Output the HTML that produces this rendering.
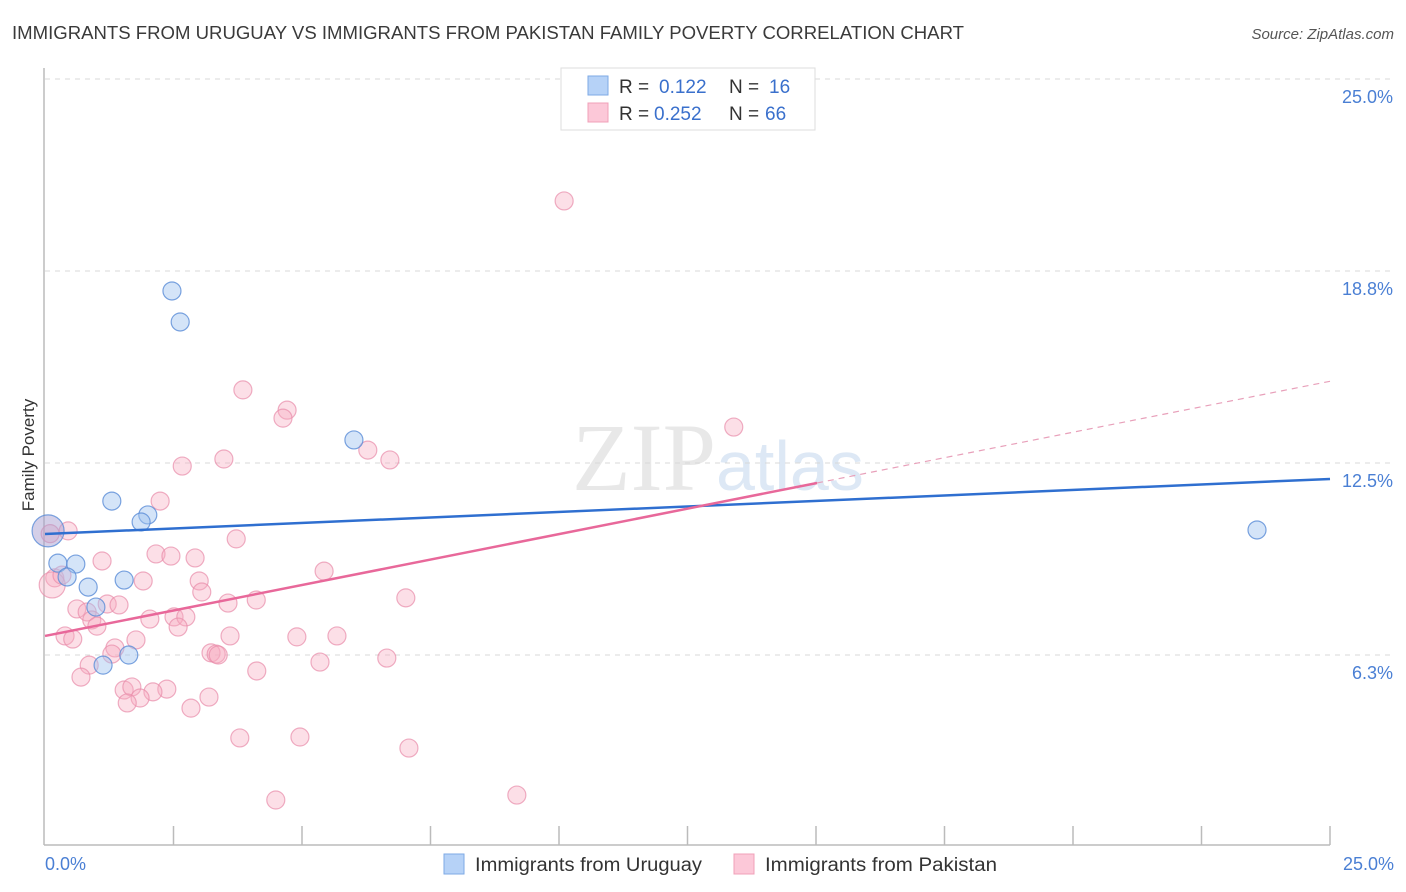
<!DOCTYPE html>
<html><head><meta charset="utf-8"><style>
body{margin:0;background:#fff;font-family:"Liberation Sans",sans-serif;}
svg{display:block}
</style></head><body>
<svg width="1406" height="892">
<text x="12" y="39" font-size="18" fill="#3a3a3a" textLength="952" lengthAdjust="spacingAndGlyphs">IMMIGRANTS FROM URUGUAY VS IMMIGRANTS FROM PAKISTAN FAMILY POVERTY CORRELATION CHART</text>
<text x="1394" y="39" font-size="15" fill="#555" text-anchor="end" font-style="italic">Source: ZipAtlas.com</text>
<text x="716" y="490" font-size="96" fill="#e8e8e8" text-anchor="end" font-family="Liberation Serif,serif">ZIP</text>
<text x="716" y="490" font-size="70" fill="#dde8f5">atlas</text>
<g id="grid"></g>
<g id="axes"></g>
<g id="pts"></g>
<g id="lines"></g>
<text x="34" y="455" font-size="17" fill="#333" text-anchor="middle" transform="rotate(-90 34 455)">Family Poverty</text>
<text x="45" y="870" font-size="18" fill="#4a7fd4">0.0%</text>
<text x="1394" y="870" font-size="18" fill="#4a7fd4" text-anchor="end">25.0%</text>
<g>
<rect x="561" y="68" width="254" height="62" fill="#fff" stroke="#ddd"/>
<rect x="588" y="76" width="20" height="19" fill="#b6d2f7" stroke="#7eaae6"/>
<rect x="588" y="103" width="20" height="19" fill="#fcc8d8" stroke="#f0a0b8"/>
<text x="619" y="93" font-size="19" fill="#333">R =</text>
<text x="659" y="93" font-size="19" fill="#3a70cc">0.122</text>
<text x="729" y="93" font-size="19" fill="#333">N =</text>
<text x="769" y="93" font-size="19" fill="#3a70cc">16</text>
<text x="619" y="120" font-size="19" fill="#333">R =</text>
<text x="654" y="120" font-size="19" fill="#3a70cc">0.252</text>
<text x="729" y="120" font-size="19" fill="#333">N =</text>
<text x="765" y="120" font-size="19" fill="#3a70cc">66</text>
</g>
<g>
<rect x="444" y="854" width="20" height="20" fill="#b6d2f7" stroke="#7eaae6"/>
<text x="475" y="871" font-size="19" fill="#333" textLength="227" lengthAdjust="spacingAndGlyphs">Immigrants from Uruguay</text>
<rect x="734" y="854" width="20" height="20" fill="#fcc8d8" stroke="#f0a0b8"/>
<text x="765" y="871" font-size="19" fill="#333" textLength="232" lengthAdjust="spacingAndGlyphs">Immigrants from Pakistan</text>
</g>
</svg>
<script>
const yTicks=[6.25,12.5,18.75,25];
const yTickLabels=["6.3%","12.5%","18.8%","25.0%"];
const blueX=[0.06,2.47,2.63,6.01,1.30,2.00,1.87,0.25,0.60,0.43,0.84,1.54,0.99,1.63,1.13,23.58];
const blueY=[10.29,18.10,17.09,13.25,11.26,10.81,10.58,9.24,9.21,8.79,8.46,8.69,7.81,6.25,5.92,10.32];
const pinkX=[10.10,3.85,4.71,4.63,13.40,6.28,6.71,3.48,2.67,2.24,0.45,3.72,2.16,2.45,2.92,1.11,5.43,0.19,0.14,0.33,1.91,3.00,3.05,7.02,4.11,3.56,1.21,1.44,0.62,0.82,2.04,2.51,2.74,0.91,1.01,2.59,3.60,0.39,0.54,1.77,4.90,5.68,1.36,1.30,3.23,3.33,3.37,6.65,5.35,0.86,4.12,0.70,1.54,1.69,2.37,2.10,1.85,1.60,3.19,2.84,3.79,4.96,7.08,4.49,9.18,0.10];
const pinkY=[21.03,14.88,14.22,13.96,13.67,12.92,12.60,12.63,12.40,11.26,10.29,10.03,9.54,9.47,9.41,9.31,8.98,8.76,8.53,8.85,8.66,8.66,8.30,8.11,8.04,7.94,7.91,7.88,7.75,7.65,7.42,7.49,7.49,7.39,7.19,7.16,6.87,6.87,6.77,6.74,6.84,6.87,6.48,6.28,6.32,6.28,6.25,6.15,6.02,5.92,5.73,5.53,5.11,5.21,5.14,5.05,4.85,4.69,4.88,4.52,3.55,3.58,3.22,1.53,1.69,10.2];
const blueTrend=[[0,10.19],[25,11.98]];
const pinkTrend=[[0,6.87],[15.02,11.85],[25,15.16]];
const X=v=>45+v/25*1285, Y=v=>847-v/6.25*192;
const NS="http://www.w3.org/2000/svg";
function mk(tag,attrs,parent){const e=document.createElementNS(NS,tag);for(const k in attrs)e.setAttribute(k,attrs[k]);document.getElementById(parent).appendChild(e);return e;}
yTicks.forEach((t,i)=>{
 const l=mk('line',{x1:45,x2:1394,y1:Y(t),y2:Y(t),stroke:'#d8d8d8','stroke-dasharray':'5,5'},'grid');
 
 
 const tx=mk('text',{x:1393,y:Y(t)+24,'font-size':18,fill:'#4a7fd4','text-anchor':'end'},'grid');
 tx.textContent=yTickLabels[i];
 
 
});
let a=mk('line',{x1:44,x2:44,y1:68,y2:845,stroke:'#bbb','stroke-width':1.5},'axes');


a=mk('line',{x1:44,x2:1330,y1:845,y2:845,stroke:'#bbb','stroke-width':1.5},'axes');


for(let i=1;i<=10;i++){const t=mk('line',{x1:X(i*2.5),x2:X(i*2.5),y1:826,y2:845,stroke:'#bbb','stroke-width':1.5},'axes');
 
 }
pinkX.forEach((v,i)=>{const big=(i===18);const c=mk('circle',{cx:X(v),cy:Y(pinkY[i]),r:big?13:9,fill:'rgba(246,170,192,0.38)',stroke:'rgba(232,140,170,0.7)','stroke-width':1.2},'pts');
 
 });
blueX.forEach((v,i)=>{const big=(i===0);const c=mk('circle',{cx:X(v),cy:Y(blueY[i]),r:big?16:9,fill:big?'rgba(170,160,210,0.5)':'rgba(160,196,240,0.45)',stroke:'rgba(90,140,215,0.8)','stroke-width':1.2},'pts');
 
 });
let l=mk('line',{x1:X(blueTrend[0][0]),y1:Y(blueTrend[0][1]),x2:X(blueTrend[1][0]),y2:Y(blueTrend[1][1]),stroke:'#2f6fd0','stroke-width':2.5},'lines');


l=mk('line',{x1:X(pinkTrend[0][0]),y1:Y(pinkTrend[0][1]),x2:X(pinkTrend[1][0]),y2:Y(pinkTrend[1][1]),stroke:'#e8689a','stroke-width':2.5},'lines');


l=mk('line',{x1:X(pinkTrend[1][0]),y1:Y(pinkTrend[1][1]),x2:X(pinkTrend[2][0]),y2:Y(pinkTrend[2][1]),stroke:'#e8a0ba','stroke-width':1.2,'stroke-dasharray':'6,5'},'lines');


</script>
</body></html>
